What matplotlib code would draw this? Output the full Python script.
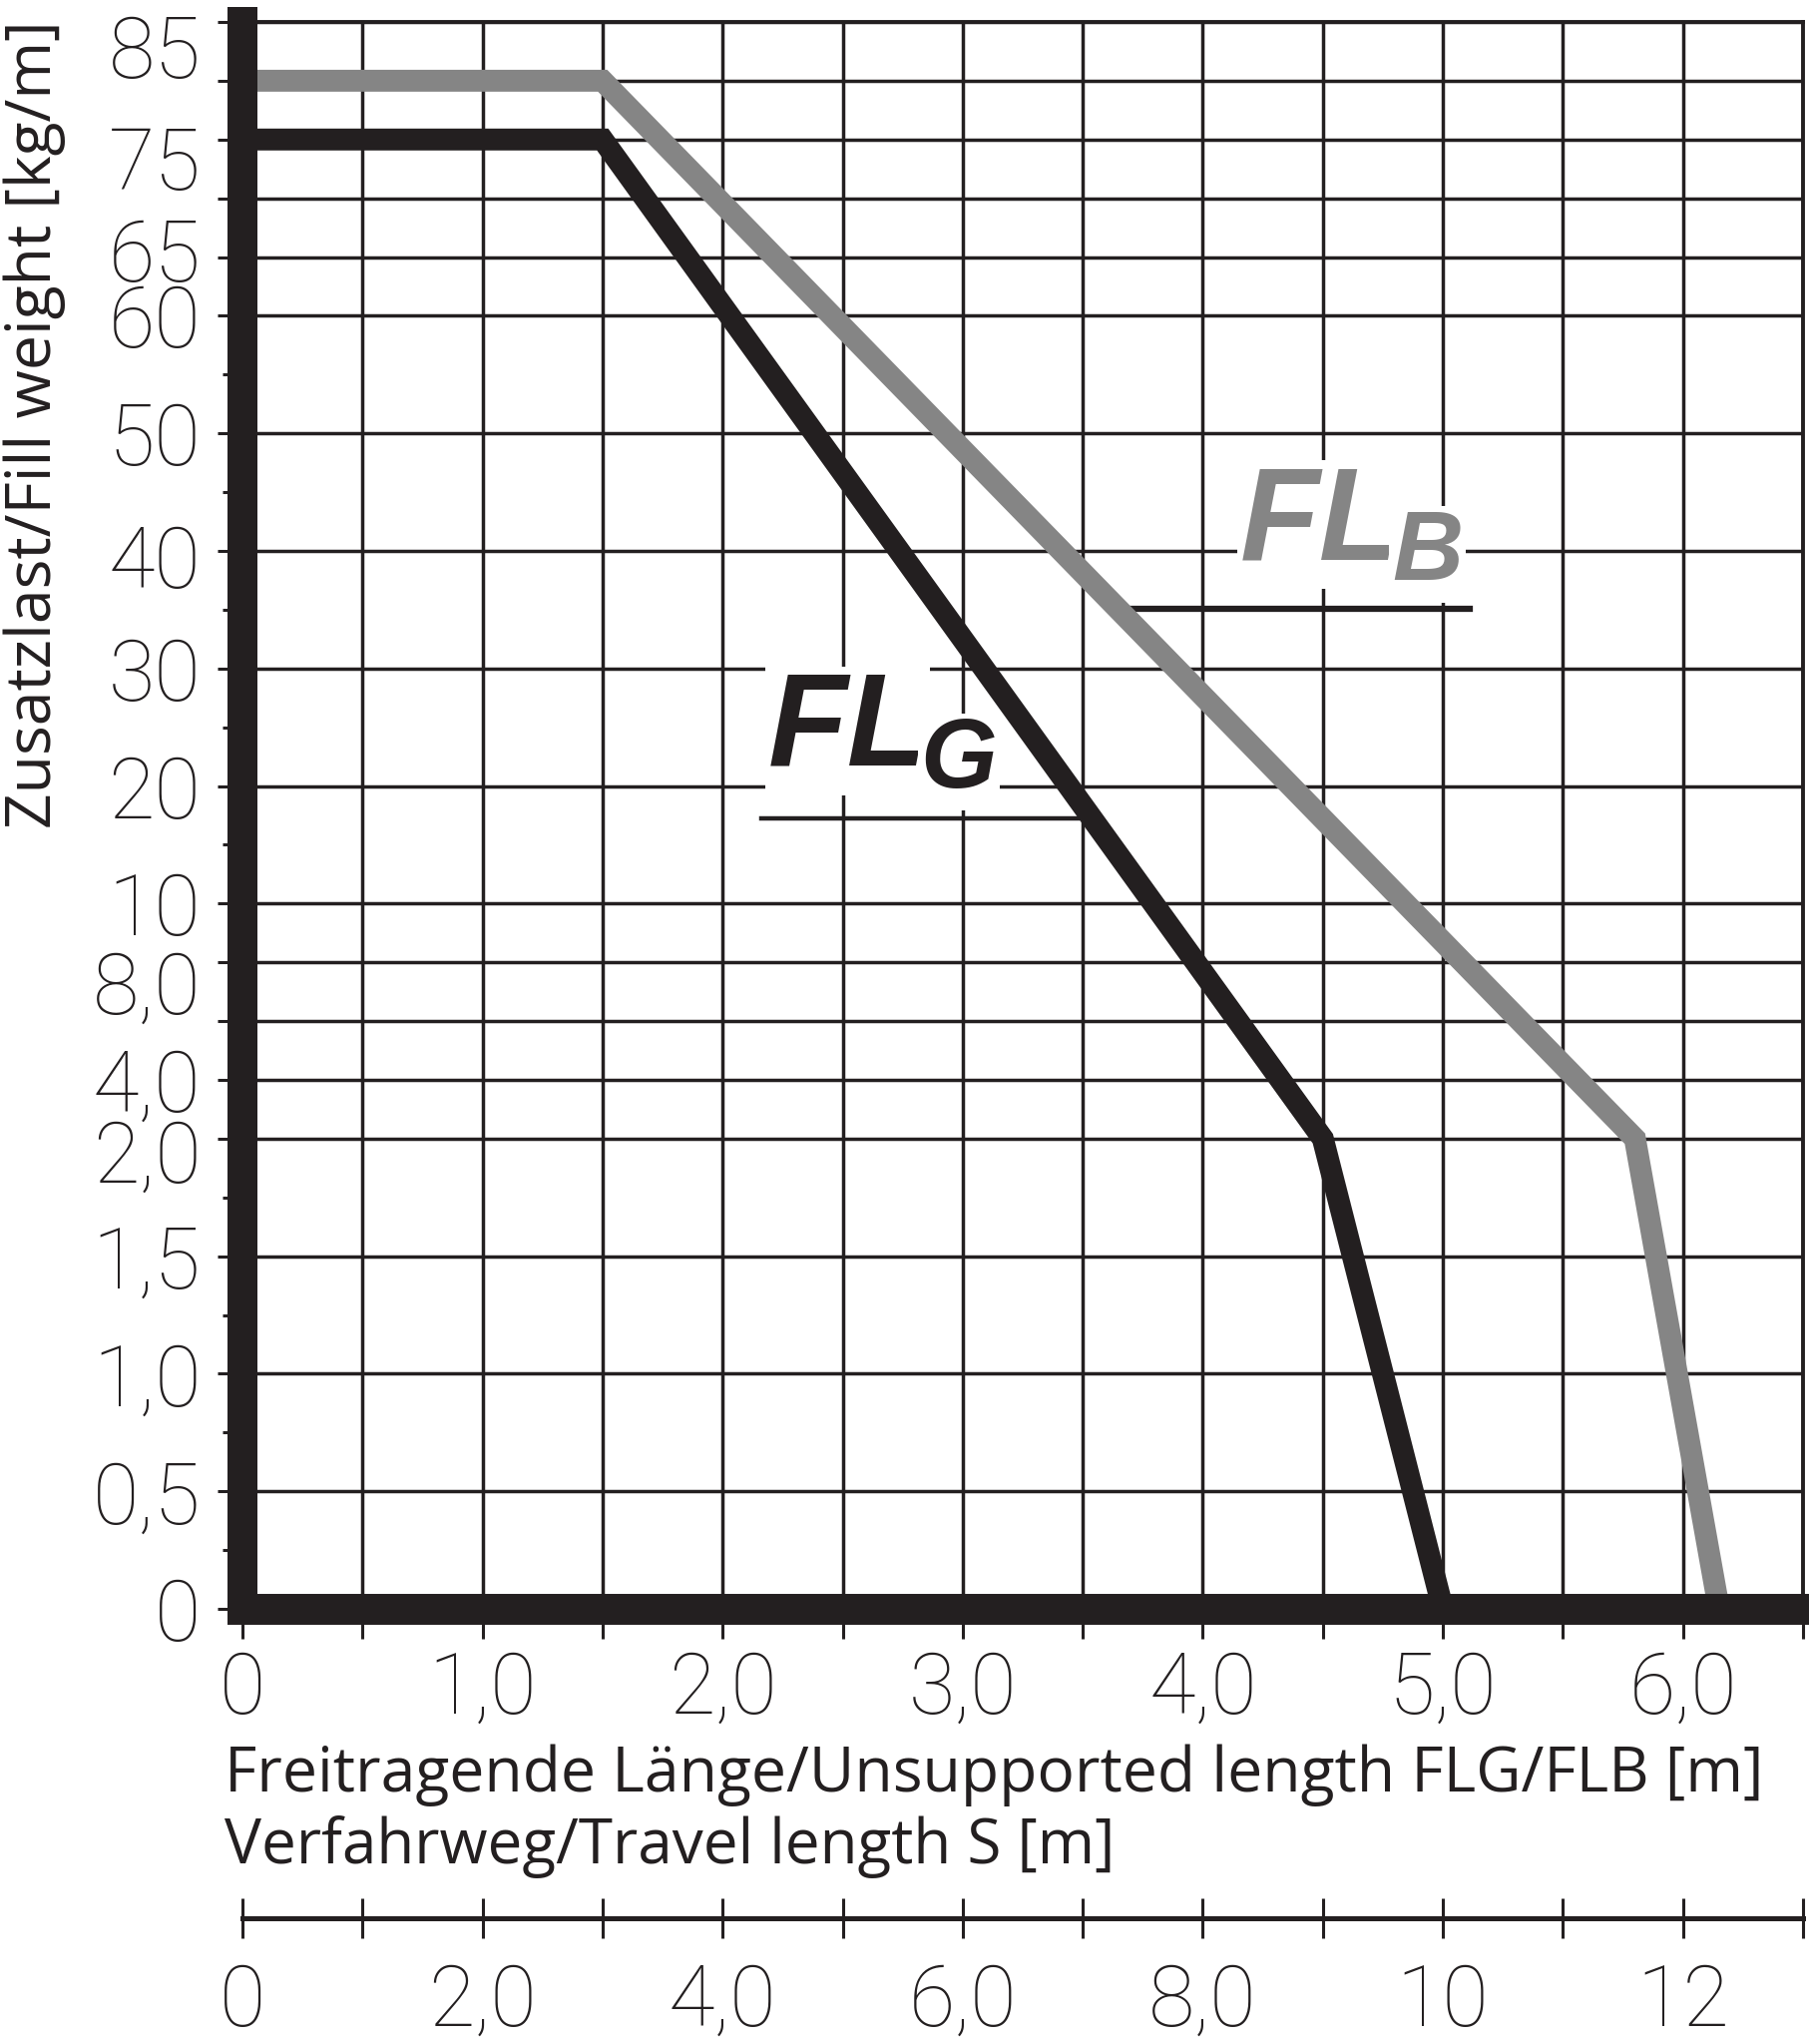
import numpy as np
import matplotlib
matplotlib.use('Agg')
import matplotlib.pyplot as plt
from matplotlib.transforms import ScaledTranslation

# FL_G / FL_B load curves (x: unsupported length in m, y: fill weight in kg/m)
fl_g_x = [0, 1.5, 4.5, 5.0]
fl_g_y = [75, 75, 2.0, 0]
fl_b_x = [0, 1.5, 5.8, 6.15]
fl_b_y = [80, 80, 2.0, 0]

# the y axis is piecewise: every grid step stands for a different load step
y_values = [0, 0.5, 1.0, 1.5, 2.0, 4.0, 6.0, 8.0, 10, 20, 30, 40, 50, 60, 65, 70, 75, 80, 85]
y_steps = [0, 2, 4, 6, 8, 9, 10, 11, 12, 14, 16, 18, 20, 22, 23, 24, 25, 26, 27]
y_labels = ['0', '0,5', '1,0', '1,5', '2,0', '4,0', '', '8,0', '10', '20', '30', '40',
            '50', '60', '65', '', '75', '', '85']
y_minor = [0.25, 0.75, 1.25, 1.75, 15, 25, 35, 45, 55]

x_ticks = [0, 0.5, 1, 1.5, 2, 2.5, 3, 3.5, 4, 4.5, 5, 5.5, 6, 6.5]
x_labels = ['0', '', '1,0', '', '2,0', '', '3,0', '', '4,0', '', '5,0', '', '6,0', '']
s_ticks = list(range(14))
s_labels = ['0', '', '2,0', '', '4,0', '', '6,0', '', '8,0', '', '10', '', '12', '']

# small vertical shifts of some y labels, as in the original (pixels, + = down)
y_label_shift = {'85': 24, '75': 18, '65': -8, '8,0': 19, '2,0': 12, '40': 5}

black = '#231f20'
gray = '#858585'

plt.rcParams['font.family'] = ['Roboto', 'DejaVu Sans']
plt.rcParams['font.weight'] = 'light'
label_font = ['Open Sans', 'DejaVu Sans']
name_font = ['Liberation Sans', 'DejaVu Sans']

W, H = 1813, 2048
fig = plt.figure(figsize=(W / 100, H / 100), dpi=100)
x0, x1 = 243, 1807
y0, y1 = 1612, 22
ax = fig.add_axes([x0 / W, 1 - y0 / H, (x1 - x0) / W, (y0 - y1) / H])


def fwd(v):
    return np.interp(v, y_values, y_steps)


def inv(p):
    return np.interp(p, y_steps, y_values)


ax.set_yscale('function', functions=(fwd, inv))
ax.set_xlim(0, 6.5)
ax.set_ylim(0, 85)

ax.plot(fl_b_x, fl_b_y, color=gray, lw=15.8, solid_joinstyle='miter', zorder=2)
ax.plot(fl_g_x, fl_g_y, color=black, lw=15.8, solid_joinstyle='miter', zorder=2)

ax.set_xticks(x_ticks, x_labels)
ax.set_yticks(y_values, y_labels)
ax.set_yticks(y_minor, minor=True)
ax.yaxis.set_minor_formatter(plt.NullFormatter())
ax.grid(True, which='major', color=black, lw=2.5)
ax.set_axisbelow(True)

ax.tick_params(axis='x', which='major', direction='out', length=21.6, width=2.2,
               pad=8, labelsize=61, color=black, labelcolor=black)
ax.tick_params(axis='y', which='major', direction='out', length=18, width=2.2,
               pad=12, labelsize=61, color=black, labelcolor=black)
ax.tick_params(axis='y', which='minor', direction='out', length=14.4, width=2.2, color=black)

for side in ['left', 'bottom']:
    ax.spines[side].set_color(black)
ax.spines['left'].set_linewidth(21.6)
ax.spines['bottom'].set_linewidth(22.3)
ax.spines['bottom'].set_capstyle('projecting')
for side in ['top', 'right']:
    ax.spines[side].set_color(black)
    ax.spines[side].set_linewidth(2.8)

for lab in ax.get_yticklabels():
    dy = y_label_shift.get(lab.get_text(), 0)
    if dy:
        lab.set_transform(lab.get_transform() + ScaledTranslation(0, -dy / 100, fig.dpi_scale_trans))

# travel length S = 2 x FL
secax = ax.secondary_xaxis(-(1922 - y0) / (y0 - y1), functions=(lambda x: 2 * x, lambda s: s / 2))
secax.set_xticks(s_ticks, s_labels)
secax.spines['bottom'].set_linewidth(3.6)
secax.spines['bottom'].set_color(black)
secax.tick_params(direction='inout', length=29, width=2.2, pad=17, labelsize=61,
                  color=black, labelcolor=black)

# curve names
box = dict(facecolor='white', edgecolor='none', pad=2)
name_style = dict(transform=ax.transAxes, family=name_font, fontweight='bold',
                  fontstyle='italic', ha='left', va='baseline', bbox=box, zorder=1.8)
ax.text(0.337, 0.5315, 'FL', fontsize=94, color=black, **name_style)
ax.text(0.4345, 0.5176, 'G', fontsize=71, color=black, **name_style)
ax.plot([0.3325, 0.5364], [0.498, 0.498], transform=ax.transAxes, color=black, lw=3.2, zorder=1.9)

ax.text(0.639, 0.6616, 'FL', fontsize=94, color=gray, **name_style)
ax.text(0.7365, 0.6484, 'B', fontsize=71, color=gray, **name_style)
ax.plot([0.5659, 0.7864], [0.6302, 0.6302], transform=ax.transAxes, color=black, lw=4.5, zorder=1.9)

# axis titles, sized to the width they take in the original
t1 = fig.text(225 / W, 1 - 1795 / H, 'Freitragende Länge/Unsupported length FLG/FLB [m]',
              family=label_font, fontweight='normal', fontsize=46, color=black,
              ha='left', va='baseline')
t2 = fig.text(225 / W, 1 - 1867 / H, 'Verfahrweg/Travel length S [m]',
              family=label_font, fontweight='normal', fontsize=46, color=black,
              ha='left', va='baseline')
t3 = fig.text(3 / W, 1 - 20 / H, 'Zusatzlast/Fill weight [kg/m]', family=label_font,
              fontweight='normal', fontsize=40, color=black, rotation=90, ha='left', va='top')

fig.canvas.draw()
r = fig.canvas.get_renderer()
for t, target, horiz in [(t1, 1541, True), (t2, 894, True), (t3, 808, False)]:
    bb = t.get_window_extent(r)
    size = bb.width if horiz else bb.height
    t.set_fontsize(t.get_fontsize() * target / size)

fig.savefig('out.png', dpi=100, facecolor='white')
